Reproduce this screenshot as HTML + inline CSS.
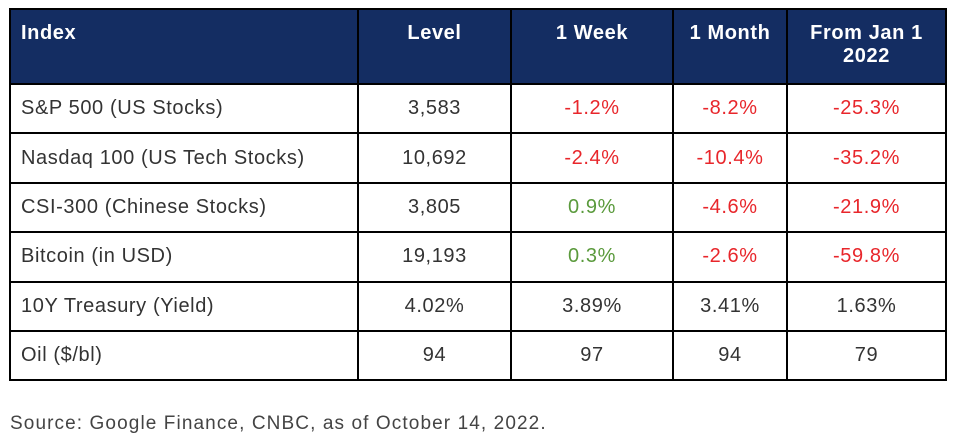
<!DOCTYPE html>
<html><head><meta charset="utf-8"><style>
body{margin:0;width:970px;height:438px;background:#fff;font-family:"Liberation Sans",sans-serif;position:relative;overflow:hidden}
table{position:absolute;left:9px;top:8px;border-collapse:collapse;table-layout:fixed}
td,th{border:2px solid #000;padding:0;font-size:20px;color:#333;letter-spacing:0.6px}
th{background:#142d62;color:#fff;font-weight:bold;vertical-align:top;padding-top:12px;height:61px;line-height:23px}
td{height:47.4px;text-align:center}
td:first-child{text-align:left;padding-left:10px}
th:first-child{text-align:left;padding-left:10px}
.r{color:#e8262b}.g{color:#5a9a3c}
.src{position:absolute;left:10px;top:413px;font-size:19px;color:#444;letter-spacing:1.1px}
</style></head><body>
<table>
<colgroup><col style="width:348px"><col style="width:153px"><col style="width:162px"><col style="width:114px"><col style="width:159px"></colgroup>
<tr><th>Index</th><th>Level</th><th>1 Week</th><th>1 Month</th><th>From Jan 1<br>2022</th></tr>
<tr><td>S&amp;P 500 (US Stocks)</td><td>3,583</td><td class="r">-1.2%</td><td class="r">-8.2%</td><td class="r">-25.3%</td></tr>
<tr><td>Nasdaq 100 (US Tech Stocks)</td><td>10,692</td><td class="r">-2.4%</td><td class="r">-10.4%</td><td class="r">-35.2%</td></tr>
<tr><td>CSI-300 (Chinese Stocks)</td><td>3,805</td><td class="g">0.9%</td><td class="r">-4.6%</td><td class="r">-21.9%</td></tr>
<tr><td>Bitcoin (in USD)</td><td>19,193</td><td class="g">0.3%</td><td class="r">-2.6%</td><td class="r">-59.8%</td></tr>
<tr><td>10Y Treasury (Yield)</td><td>4.02%</td><td>3.89%</td><td>3.41%</td><td>1.63%</td></tr>
<tr><td>Oil ($/bl)</td><td>94</td><td>97</td><td>94</td><td>79</td></tr>
</table>
<div class="src">Source: Google Finance, CNBC, as of October 14, 2022.</div>
</body></html>
